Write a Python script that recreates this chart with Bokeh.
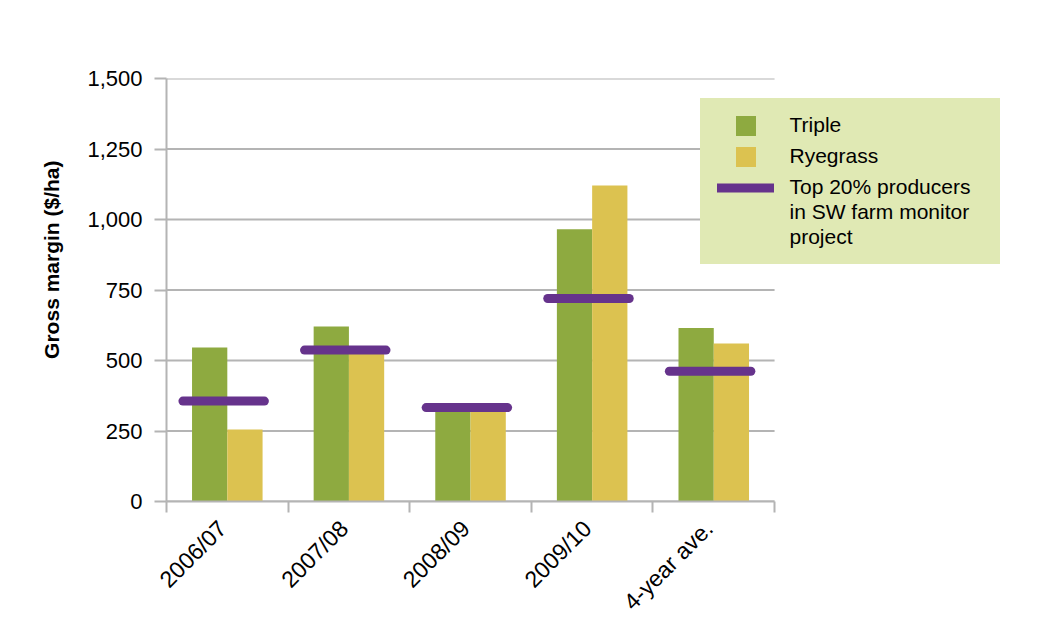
from math import pi

from bokeh.plotting import figure
from bokeh.models import (ColumnDataSource, Range1d, FixedTicker, NumeralTickFormatter,
                          Legend, LegendItem, Title)
from bokeh.core.properties import value
from bokeh.transform import dodge
from bokeh.embed import file_html
from bokeh.resources import INLINE

# values ($/ha)
categories = ["2006/07", "2007/08", "2008/09", "2009/10", "4-year ave."]
triple = [546, 621, 322, 965, 615]
ryegrass = [255, 530, 320, 1121, 560]
top20 = [356, 537, 333, 720, 462]
y_ticks = [0, 250, 500, 750, 1000, 1250, 1500]
top20_label = ["Top 20% producers", "in SW farm monitor", "project"]

GREEN = "#8EAA40"
YELLOW = "#DCC250"
PURPLE = "#66338C"
GRID = "#B4B4B4"
LEGEND_BG = "#E0E9B4"
FONT = "Liberation Sans"

n = len(categories)
centers = [i + 0.5 for i in range(n)]
bounds = list(range(n + 1))
# tick labels sit a touch left of the category centre, as in the original
label_pos = [c - 0.04 for c in centers]

src = ColumnDataSource(dict(x=centers, triple=triple, ryegrass=ryegrass, top20=top20))
grid_src = ColumnDataSource(dict(y=y_ticks, x0=[0] * len(y_ticks), x1=[n] * len(y_ticks)))

# the frame runs on past the last category so the legend (which is clipped
# to the frame) can sit to the right of the bars
p = figure(width=1024, height=627, x_range=Range1d(0, 6.94), y_range=Range1d(0, 1500),
           output_backend="svg", toolbar_location=None,
           min_border_left=166, min_border_right=14, min_border_top=78, min_border_bottom=126)
p.outline_line_color = None

# grid lines only across the categories
p.segment(x0="x0", x1="x1", y0="y", y1="y", source=grid_src, line_color=GRID, line_width=2,
          level="underlay")

bars_t = p.vbar(x=dodge("x", -0.145, range=p.x_range), top="triple", width=0.29, source=src,
                fill_color=GREEN, line_color=None)
bars_r = p.vbar(x=dodge("x", 0.145, range=p.x_range), top="ryegrass", width=0.29, source=src,
                fill_color=YELLOW, line_color=None)
seg = p.segment(x0=dodge("x", -0.365, range=p.x_range), x1=dodge("x", 0.305, range=p.x_range),
                y0="top20", y1="top20", source=src, line_color=PURPLE, line_width=9, line_cap="round")
# legend-only renderer (draws nothing)
blank = p.line(x=[], y=[], line_alpha=0)

# x axis: labels at category centres, tick marks between categories
p.xaxis.bounds = (0, n)
p.xaxis.ticker = FixedTicker(ticks=label_pos, minor_ticks=bounds)
p.xaxis.major_label_overrides = {c: lab for c, lab in zip(label_pos, categories)}
p.xaxis.major_label_orientation = pi / 4
p.xaxis.major_tick_line_color = None
p.xaxis.minor_tick_in = 0
p.xaxis.minor_tick_out = 11
p.xaxis.minor_tick_line_color = GRID
p.xaxis.minor_tick_line_width = 2
p.xaxis.major_label_standoff = 12
p.xgrid.visible = False
p.ygrid.visible = False

p.yaxis.ticker = FixedTicker(ticks=y_ticks, minor_ticks=[])
p.yaxis.formatter = NumeralTickFormatter(format="0,0")
p.yaxis.major_tick_in = 0
p.yaxis.major_tick_out = 12
p.yaxis.major_tick_line_color = GRID
p.yaxis.major_tick_line_width = 2
p.yaxis.major_label_standoff = 12

for ax in (p.xaxis, p.yaxis):
    ax.axis_line_color = GRID
    ax.axis_line_width = 2
    ax.major_label_text_font = FONT
    ax.major_label_text_color = "black"
p.yaxis.major_label_text_font_size = "22px"
p.xaxis.major_label_text_font_size = "23px"

# y axis title, sitting above the middle like the original
ytitle = Title(text="Gross margin ($/ha)", align="right", offset=82, standoff=44,
               text_font=FONT, text_font_style="bold", text_font_size="21px", text_color="black")
p.add_layout(ytitle, "left")

# legend background box
leg_bg = Legend(items=[LegendItem(label=value(""), renderers=[blank])],
                location=(534, 237), glyph_width=300, glyph_height=166, padding=0,
                label_standoff=0, label_width=0, label_height=0,
                background_fill_color=LEGEND_BG, background_fill_alpha=1, border_line_color=None)
p.add_layout(leg_bg)

legend_text = dict(label_text_font=FONT, label_text_font_size="21px", label_text_color="black",
                   background_fill_alpha=0, border_line_color=None, padding=0, margin=0)

# squares for the two bar series
leg_sq = Legend(items=[
    LegendItem(label=value("Triple"), renderers=[bars_t]),
    LegendItem(label=value("Ryegrass"), renderers=[bars_r]),
], location=(566.5, 332.5), glyph_width=25, glyph_height=25, spacing=6,
    label_standoff=32, **legend_text)
p.add_layout(leg_sq)

# line entry, its label over three rows
leg_line = Legend(items=[
    LegendItem(label=value(txt), renderers=[seg if i == 0 else blank])
    for i, txt in enumerate(top20_label)
], location=(550.5, 251.5), glyph_width=57, glyph_height=25, spacing=0,
    label_standoff=16, **legend_text)
p.add_layout(leg_line)

open("out.html", "w").write(file_html(p, INLINE))
